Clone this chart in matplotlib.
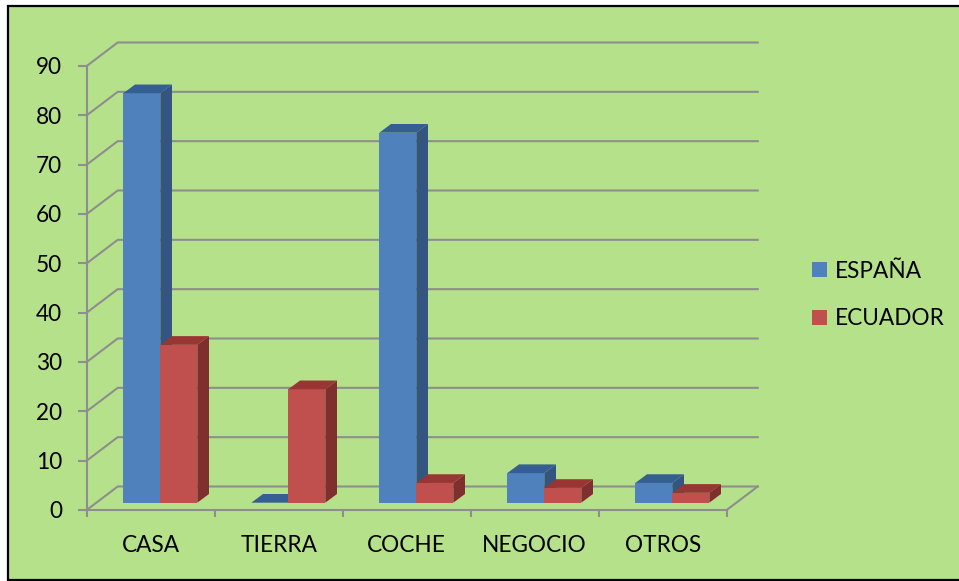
import matplotlib
matplotlib.use("Agg")
import matplotlib.pyplot as plt
from matplotlib.patches import Polygon, Rectangle, Patch

plt.rcParams['font.family'] = ['Lato', 'DejaVu Sans']

categories = ["CASA", "TIERRA", "COCHE", "NEGOCIO", "OTROS"]
espana = [83, 0, 75, 6, 4]
ecuador = [32, 23, 4, 3, 2]
y_ticks = [0, 10, 20, 30, 40, 50, 60, 70, 80, 90]

W, H = 959, 581
L, R, B, T = 86.7, 726.7, 510.0, 66.0
WALL_DX, WALL_DY = 31.0, 23.5     # px depth of the chart box
BAR_SHIFT_DX, BAR_SHIFT_DY = 9.6, 7.3
BAR_DX, BAR_DY = 11.7, 8.7
BAR_W_PX = 37.0
GRID = "#8E8E8E"
BG = "#B5E18A"
FS = 16.3

fig = plt.figure(figsize=(W / 100, H / 100), dpi=100, facecolor="white")
fig.add_artist(Rectangle((8 / W, 1 - 580 / H), (W + 5) / W, 574 / H,
                         transform=fig.transFigure, facecolor=BG,
                         edgecolor="black", linewidth=1.6, zorder=0))
ax = fig.add_axes([L / W, 1 - B / H, (R - L) / W, (B - T) / H])
ax.patch.set_visible(False)
ax.set_xlim(0, len(categories))
ax.set_ylim(0, 90)

sx = len(categories) / (R - L)
sy = 90 / (B - T)
wall_dx, wall_dy = WALL_DX * sx, WALL_DY * sy

# back wall and side wall grid
for v in y_ticks:
    ax.plot([0, wall_dx, len(categories) + wall_dx],
            [v, v + wall_dy, v + wall_dy],
            color=GRID, lw=1.5, clip_on=False, zorder=1, solid_joinstyle="miter")
ax.plot([len(categories), len(categories) + wall_dx], [0, wall_dy],
        color=GRID, lw=1.5, clip_on=False, zorder=1)

# axes
for s in ("top", "right"):
    ax.spines[s].set_visible(False)
for s in ("left", "bottom"):
    ax.spines[s].set_color(GRID)
    ax.spines[s].set_linewidth(1.5)
    ax.spines[s].set_zorder(2)
ax.set_yticks(y_ticks)
ax.set_xticks(range(len(categories) + 1))
ax.set_xticklabels([])
ax.set_xticks([i + 0.5 for i in range(len(categories))], minor=True)
ax.set_xticklabels(categories, minor=True)
ax.tick_params(axis="y", length=6.2, width=1.5, color=GRID, labelsize=FS,
               pad=11.5, labelcolor="black")
ax.tick_params(axis="x", which="major", length=5, width=1.5, color=GRID)
ax.tick_params(axis="x", which="minor", length=0, labelsize=FS, pad=18,
               labelcolor="black")

bw = BAR_W_PX * sx
dx, dy = BAR_DX * sx, BAR_DY * sy
shift_x, shift_y = BAR_SHIFT_DX * sx, BAR_SHIFT_DY * sy


def box(x_left, value, front, side, top, z):
    ax.bar(x_left, value, bw, bottom=shift_y, align="edge", color=front,
           zorder=z, clip_on=False, linewidth=0)
    y0, y1 = shift_y, shift_y + value
    x1 = x_left + bw
    ax.add_patch(Polygon([(x1, y0), (x1 + dx, y0 + dy), (x1 + dx, y1 + dy), (x1, y1)],
                         facecolor=side, edgecolor="none", zorder=z, clip_on=False))
    ax.add_patch(Polygon([(x_left, y1), (x1, y1), (x1 + dx, y1 + dy), (x_left + dx, y1 + dy)],
                         facecolor=top, edgecolor="none", zorder=z, clip_on=False))


for i, (a, b) in enumerate(zip(espana, ecuador)):
    c = i + 0.5 + shift_x
    box(c - bw, a, "#4F81BD", "#33557F", "#355F92", 3 + 2 * i)
    box(c, b, "#C0504D", "#7F2F2D", "#993533", 4 + 2 * i)

handles = [Patch(facecolor="#4F81BD", label="ESPAÑA"),
           Patch(facecolor="#C0504D", label="ECUADOR")]
fig.legend(handles=handles, loc="center left",
           bbox_to_anchor=(803 / W, 1 - 295 / H), frameon=False,
           fontsize=FS, handlelength=0.66, handleheight=0.66,
           handletextpad=0.35, labelspacing=1.17, borderpad=0.4, borderaxespad=0,
           labelcolor="black")

fig.savefig("out.png", dpi=100, facecolor="white")
